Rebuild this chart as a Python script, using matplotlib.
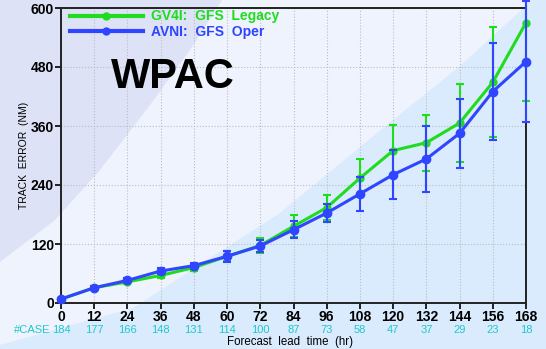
import numpy as np
import matplotlib
matplotlib.use("Agg")
import matplotlib.pyplot as plt
from matplotlib.patches import Polygon
from matplotlib.lines import Line2D

plt.rcParams['font.family'] = ['Liberation Sans', 'DejaVu Sans']

# track error statistics, WPAC
hours = [0, 12, 24, 36, 48, 60, 72, 84, 96, 108, 120, 132, 144, 156, 168]
cases = [184, 177, 166, 148, 131, 114, 100, 87, 73, 58, 47, 37, 29, 23, 18]
gv4i = [8, 31, 43, 56, 72, 95, 117, 156, 194, 254, 310, 326, 366, 449, 570]
gv4i_err = [3, 3, 4, 5, 6, 10, 15, 22, 26, 38, 52, 57, 80, 112, 160]
avni = [8, 31, 46, 65, 76, 95, 116, 149, 183, 222, 261, 293, 345, 430, 491]
avni_err = [3, 3, 4, 7, 6, 11, 12, 17, 19, 35, 50, 67, 70, 98, 123]

green = '#1fdc1f'
blue = '#2f45ff'
cyan = '#1fc8cc'

W, H = 546, 349
fig = plt.figure(figsize=(W / 100, H / 100), dpi=100, facecolor='#eef3fd')


def fpos(pts):
    return [(x / W, 1 - y / H) for x, y in pts]


# slide background shapes
lav = [(0, 0), (222, 0), (190, 50), (150, 105), (100, 170), (55, 220), (0, 262)]
fig.add_artist(Polygon(fpos(lav), closed=True, transform=fig.transFigure,
                       facecolor='#dde2f6', edgecolor='none', zorder=0))
lb = [(0, 349), (0, 345), (133, 308), (280, 213), (393, 120), (460, 66),
      (527, 5), (532, 0), (546, 0), (546, 349)]
fig.add_artist(Polygon(fpos(lb), closed=True, transform=fig.transFigure,
                       facecolor='#d9ebfc', edgecolor='none', zorder=0))

ax = fig.add_axes([61 / W, 1 - 303 / H, 465 / W, 295 / H])
ax.set_facecolor('none')

ax.errorbar(hours, gv4i, yerr=gv4i_err, color=green, lw=2.2, marker='o', ms=5,
            capsize=2.8, elinewidth=1.5, capthick=1.5, clip_on=False, zorder=3)
ax.errorbar(hours, avni, yerr=avni_err, color=blue, lw=2.2, marker='o', ms=6,
            capsize=2.8, elinewidth=1.5, capthick=1.5, clip_on=False, zorder=4)

ax.set_xlim(0, 168)
ax.set_ylim(0, 600)
ax.set_xticks(hours)
ax.set_yticks(range(0, 601, 120))
ax.grid(True, ls=':', color='#bdbdbd', lw=0.8)
ax.tick_params(direction='out', length=4, width=1.2, labelsize=10, pad=1)
for lab in ax.get_xticklabels() + ax.get_yticklabels():
    lab.set_fontweight('bold')
for s in ax.spines.values():
    s.set_linewidth(1.4)
    s.set_color('#222222')

# number of cases under each lead time
for h, c in zip(hours, cases):
    ax.text(h, -27 / 295, str(c), transform=ax.get_xaxis_transform(),
            ha='center', va='center', color=cyan, fontsize=8)
fig.text(14 / W, 1 - 330 / H, '#CASE', ha='left', va='center', color=cyan,
         fontsize=8)

fig.text(290 / W, 1 - 342 / H, 'Forecast  lead  time  (hr)', ha='center',
         va='center', fontsize=8.3)
fig.text(24 / W, 1 - 155 / H, 'TRACK  ERROR  (NM)', rotation=90, ha='center',
         va='center', fontsize=7.5)

ax.text(0.24, 0.766, 'WPAC', transform=ax.transAxes, ha='center', va='center',
        fontsize=30, fontweight='bold')

handles = [Line2D([], [], color=green, lw=3, marker='o', ms=5),
           Line2D([], [], color=blue, lw=3, marker='o', ms=5)]
ax.legend(handles, ['GV4I:  GFS  Legacy', 'AVNI:  GFS  Oper'],
          loc='upper left', bbox_to_anchor=(0.02, 0.995), frameon=False,
          handlelength=5.2, handletextpad=0.6, labelspacing=0.12,
          borderpad=0, borderaxespad=0, numpoints=1, labelcolor='linecolor',
          prop={'weight': 'bold', 'size': 10})

fig.savefig('out.png', dpi=100, facecolor=fig.get_facecolor())
